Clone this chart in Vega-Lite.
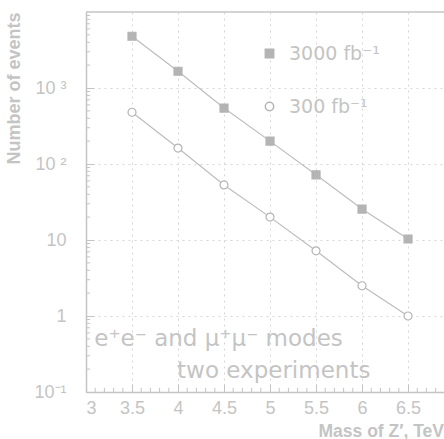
{
  "$schema": "https://vega.github.io/schema/vega-lite/v6.json",
  "autosize": "none",
  "width": 358,
  "height": 380,
  "padding": {"left": 86, "top": 12, "right": 0, "bottom": 47},
  "background": "white",
  "config": {
    "view": {"stroke": null},
    "font": "Liberation Sans",
    "axis": {
      "domainColor": "#c4c4c4",
      "domainWidth": 1.5,
      "tickColor": "#c4c4c4",
      "tickSize": -8,
      "labelColor": "#c4c4c4",
      "labelFont": "Liberation Sans",
      "labelFontSize": 18,
      "titleColor": "#c4c4c4",
      "titleFont": "Liberation Sans",
      "titleFontSize": 18,
      "titleFontWeight": "bold",
      "gridColor": "#d6d6d6",
      "gridDash": [2, 4],
      "gridWidth": 1
    }
  },
  "datasets": {
    "events": [
      {"mass": 3.5, "events": 4800, "lumi": "3000 fb⁻¹"},
      {"mass": 4.0, "events": 1660, "lumi": "3000 fb⁻¹"},
      {"mass": 4.5, "events": 545, "lumi": "3000 fb⁻¹"},
      {"mass": 5.0, "events": 200, "lumi": "3000 fb⁻¹"},
      {"mass": 5.5, "events": 72, "lumi": "3000 fb⁻¹"},
      {"mass": 6.0, "events": 25.5, "lumi": "3000 fb⁻¹"},
      {"mass": 6.5, "events": 10.3, "lumi": "3000 fb⁻¹"},
      {"mass": 3.5, "events": 480, "lumi": "300 fb⁻¹"},
      {"mass": 4.0, "events": 162, "lumi": "300 fb⁻¹"},
      {"mass": 4.5, "events": 53, "lumi": "300 fb⁻¹"},
      {"mass": 5.0, "events": 20, "lumi": "300 fb⁻¹"},
      {"mass": 5.5, "events": 7.2, "lumi": "300 fb⁻¹"},
      {"mass": 6.0, "events": 2.5, "lumi": "300 fb⁻¹"},
      {"mass": 6.5, "events": 1.0, "lumi": "300 fb⁻¹"}
    ],
    "xminor": [
      {"mass": 3.1}, {"mass": 3.2}, {"mass": 3.3}, {"mass": 3.4}, {"mass": 3.6}, {"mass": 3.7}, {"mass": 3.8}, {"mass": 3.9},
      {"mass": 4.1}, {"mass": 4.2}, {"mass": 4.3}, {"mass": 4.4}, {"mass": 4.6}, {"mass": 4.7}, {"mass": 4.8}, {"mass": 4.9},
      {"mass": 5.1}, {"mass": 5.2}, {"mass": 5.3}, {"mass": 5.4}, {"mass": 5.6}, {"mass": 5.7}, {"mass": 5.8}, {"mass": 5.9},
      {"mass": 6.1}, {"mass": 6.2}, {"mass": 6.3}, {"mass": 6.4}, {"mass": 6.6}, {"mass": 6.7}, {"mass": 6.8}
    ],
    "yminor": [
      {"events": 0.2}, {"events": 0.3}, {"events": 0.4}, {"events": 0.5}, {"events": 0.6}, {"events": 0.7}, {"events": 0.8}, {"events": 0.9},
      {"events": 2}, {"events": 3}, {"events": 4}, {"events": 5}, {"events": 6}, {"events": 7}, {"events": 8}, {"events": 9},
      {"events": 20}, {"events": 30}, {"events": 40}, {"events": 50}, {"events": 60}, {"events": 70}, {"events": 80}, {"events": 90},
      {"events": 200}, {"events": 300}, {"events": 400}, {"events": 500}, {"events": 600}, {"events": 700}, {"events": 800}, {"events": 900},
      {"events": 2000}, {"events": 3000}, {"events": 4000}, {"events": 5000}, {"events": 6000}, {"events": 7000}, {"events": 8000}, {"events": 9000}
    ],
    "notes": [
      {"label": "e⁺e⁻ and μ⁺μ⁻ modes", "mass": 3.09, "events": 0.5},
      {"label": "two experiments", "mass": 3.99, "events": 0.19}
    ]
  },
  "layer": [
    {
      "data": {"name": "events"},
      "mark": {"type": "line", "color": "#bdbdbd", "strokeWidth": 1.2},
      "encoding": {
        "x": {
          "field": "mass", "type": "quantitative",
          "scale": {"domain": [3, 6.891], "nice": false, "zero": false},
          "axis": {
            "values": [3, 3.5, 4, 4.5, 5, 5.5, 6, 6.5],
            "format": "~g",
            "grid": true,
            "labelPadding": 15,
            "title": "Mass of Z′, TeV",
            "titleFontSize": 17.5,
            "titleAnchor": "start",
            "titleAlign": "left",
            "titleX": 232,
            "titleY": 44,
            "titleBaseline": "alphabetic"
          }
        },
        "y": {
          "field": "events", "type": "quantitative",
          "scale": {"type": "log", "domain": [0.1, 10000], "nice": false},
          "axis": {
            "values": [0.1, 1, 10, 100, 1000],
            "grid": true,
            "labelPadding": 28,
            "labelExpr": "datum.value == 0.1 ? '10⁻¹' : datum.value == 100 ? '10 ²' : datum.value == 1000 ? '10 ³' : datum.label",
            "title": "Number of events",
            "titleAnchor": "end",
            "titlePadding": 10
          }
        },
        "detail": {"field": "lumi"}
      }
    },
    {
      "data": {"name": "events"},
      "mark": {"type": "point", "size": 64, "strokeWidth": 1.2, "opacity": 1},
      "encoding": {
        "x": {"field": "mass", "type": "quantitative"},
        "y": {"field": "events", "type": "quantitative"},
        "shape": {
          "field": "lumi", "type": "nominal",
          "scale": {"domain": ["3000 fb⁻¹", "300 fb⁻¹"], "range": ["square", "circle"]},
          "legend": {
            "title": null,
            "orient": "none",
            "legendX": 174,
            "legendY": 32,
            "padding": 0,
            "rowPadding": 33,
            "labelFont": "DejaVu Sans",
            "labelFontSize": 19,
            "labelColor": "#c4c4c4",
            "labelOffset": 10,
            "symbolSize": 70
          }
        },
        "fill": {
          "field": "lumi", "type": "nominal",
          "scale": {"domain": ["3000 fb⁻¹", "300 fb⁻¹"], "range": ["#b4b4b4", "white"]}
        },
        "stroke": {
          "field": "lumi", "type": "nominal",
          "scale": {"domain": ["3000 fb⁻¹", "300 fb⁻¹"], "range": ["#b4b4b4", "#b4b4b4"]}
        }
      }
    },
    {
      "data": {"name": "xminor"},
      "mark": {"type": "rule", "color": "#c4c4c4", "strokeWidth": 1},
      "encoding": {
        "x": {"field": "mass", "type": "quantitative"},
        "y": {"datum": 0.1},
        "y2": {"datum": 0.1135}
      }
    },
    {
      "data": {"name": "yminor"},
      "mark": {"type": "rule", "color": "#c4c4c4", "strokeWidth": 1},
      "encoding": {
        "y": {"field": "events", "type": "quantitative"},
        "x": {"datum": 3},
        "x2": {"datum": 3.045}
      }
    },
    {
      "data": {"values": [{"events": 10000}]},
      "mark": {"type": "rule", "color": "#c4c4c4", "strokeWidth": 1.5},
      "encoding": {
        "y": {"field": "events", "type": "quantitative"}
      }
    },
    {
      "data": {"name": "notes"},
      "mark": {"type": "text", "align": "left", "baseline": "middle", "font": "DejaVu Sans", "fontSize": 23, "color": "#c4c4c4"},
      "encoding": {
        "x": {"field": "mass", "type": "quantitative"},
        "y": {"field": "events", "type": "quantitative"},
        "text": {"field": "label"}
      }
    }
  ]
}
